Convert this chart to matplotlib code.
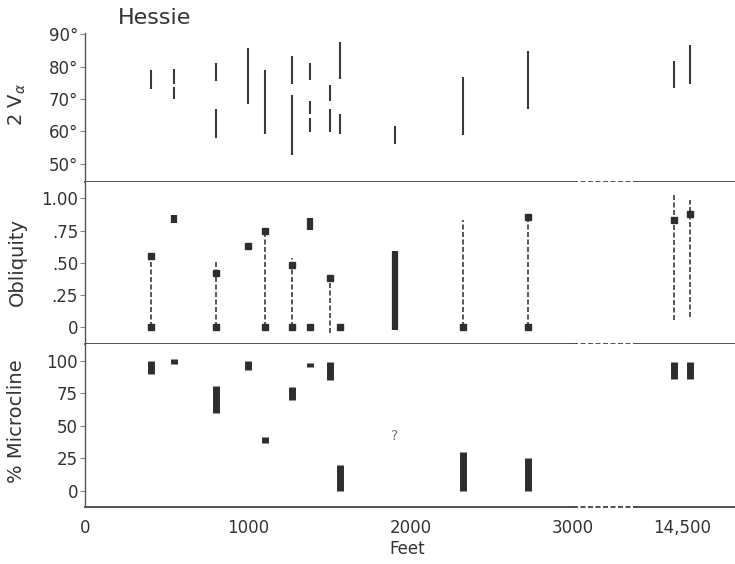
import numpy as np
import matplotlib.pyplot as plt

# --- data (depth in feet; the two deep samples sit past the axis break) ---
twov_depth = [405, 545, 545, 805, 805, 1000, 1105, 1270, 1270, 1385, 1385, 1385,
              1505, 1505, 1565, 1565, 1905, 2325, 2720, 14400, 14600]
twov_lo = [73.1, 74.7, 70.1, 75.7, 57.8, 68.5, 59.3, 74.7, 52.6, 76.0, 65.4, 59.7,
           69.3, 59.8, 76.2, 59.1, 56.0, 59.0, 67.0, 73.4, 74.5]
twov_hi = [78.8, 79.3, 73.6, 81.0, 67.0, 85.9, 79.0, 83.4, 71.1, 81.1, 69.3, 64.1,
           74.2, 67.0, 87.5, 65.4, 61.5, 76.9, 84.7, 81.8, 86.7]

obl_range_depth = [405, 805, 1105, 1270, 1505, 2325, 2720, 14400, 14600]
obl_range_lo = [0, 0, 0, 0, -0.045, 0, 0, 0.057, 0.08]
obl_range_hi = [0.55, 0.52, 0.75, 0.54, 0.38, 0.83, 0.857, 1.04, 0.99]
obl_pt_depth = [405, 405, 805, 805, 1000, 1105, 1105, 1270, 1270, 1385, 1505,
                1565, 2325, 2720, 2720, 14400, 14600]
obl_pt_val = [0.55, 0, 0.42, 0, 0.63, 0.75, 0, 0.48, 0, 0, 0.38,
              0, 0, 0.857, 0, 0.83, 0.876]
obl_bar_depth = [545, 1385, 1905]
obl_bar_lo = [0.81, 0.755, -0.02]
obl_bar_hi = [0.87, 0.845, 0.59]

mic_depth = [405, 545, 805, 1000, 1105, 1270, 1385, 1505, 1565, 2325, 2720, 14400, 14600]
mic_lo = [89.5, 97.5, 60, 93, 37, 70, 95, 85, 0, 0, 0, 86, 86]
mic_hi = [100, 101, 80.5, 100, 41, 80, 98.5, 99, 20, 30, 25, 99, 99]
mic_unknown_depth = 1905
mic_unknown_val = 42

x_ticks = [0, 1000, 2000, 3000, 14500]
x_labels = ["0", "1000", "2000", "3000", "14,500"]


def xpos(ft):
    # broken axis: everything deep gets squeezed in after 3000 ft
    ft = np.asarray(ft, float)
    return np.where(ft > 3500, 3669 + (ft - 14500) * 0.5, ft)


INK = "#333333"
plt.rcParams["font.family"] = ["DejaVu Sans"]

W, H = 735, 564
fig = plt.figure(figsize=(W / 100, H / 100), dpi=100)


def box(top, bot):
    return [85 / W, 1 - bot / H, 650 / W, (bot - top) / H]


ax1 = fig.add_axes(box(33, 181.7))
ax2 = fig.add_axes(box(181.7, 344.3))
ax3 = fig.add_axes(box(344.3, 506.7))

# 2V panel
ax1.vlines(xpos(twov_depth), twov_lo, twov_hi, color="#3a3a3a", lw=1.5)
ax1.set_ylim(44.4, 90.4)
ax1.set_yticks([50, 60, 70, 80, 90])
ax1.set_yticklabels(["50°", "60°", "70°", "80°", "90°"])

# obliquity panel
ax2.vlines(xpos(obl_range_depth), obl_range_lo, obl_range_hi, color="#3a3a3a",
           lw=1.2, linestyles=(0, (3, 1.5)))
ax2.vlines(xpos(obl_bar_depth), obl_bar_lo, obl_bar_hi, color="#2e2e2e", lw=4.5,
           capstyle="butt")
ax2.plot(xpos(obl_pt_depth), obl_pt_val, ls="none", marker="s", ms=4.5,
         color="#2e2e2e")
ax2.set_ylim(-0.132, 1.129)
ax2.set_yticks([0, 0.25, 0.5, 0.75, 1.0])
ax2.set_yticklabels(["0", ".25", ".50", ".75", "1.00"])

# microcline panel
ax3.vlines(xpos(mic_depth), mic_lo, mic_hi, color="#2e2e2e", lw=5, capstyle="butt")
ax3.text(xpos(mic_unknown_depth), mic_unknown_val, "?", color="#777777",
         fontsize=10, ha="center", va="center")
ax3.set_ylim(-12.3, 112.6)
ax3.set_yticks([0, 25, 50, 75, 100])
ax3.set_xticks(xpos(x_ticks))
ax3.set_xticklabels(x_labels)
ax3.tick_params(axis="x", length=0, pad=9, labelsize=12, colors=INK)

for ax in (ax1, ax2, ax3):
    ax.set_xlim(0, 3995)
    for s in ("top", "right", "bottom"):
        ax.spines[s].set_visible(False)
    ax.spines["left"].set_color("#555555")
    ax.spines["left"].set_linewidth(1)
    ax.tick_params(axis="y", length=3.5, width=0.8, color="#888888", pad=1.5,
                   labelsize=12, labelcolor=INK)
    if ax is not ax3:
        ax.set_xticks([])
    # bottom divider with dashed gap where the depth scale is broken
    tr = ax.get_xaxis_transform()
    ax.plot([0, 3000], [0, 0], transform=tr, color=INK, lw=1.2, clip_on=False)
    ax.plot([3000, 3393], [0, 0], transform=tr, color=INK, lw=1.2,
            ls=(0, (3, 1.5)), clip_on=False)
    ax.plot([3393, 3995], [0, 0], transform=tr, color=INK, lw=1.2, clip_on=False)

fig.text(118 / W, 1 - 18 / H, "Hessie", fontsize=16, color=INK, ha="left", va="center")
fig.text(17 / W, 1 - 105 / H, "2 V$_\\alpha$", fontsize=14, color=INK, rotation=90,
         ha="center", va="center")
fig.text(17 / W, 1 - 262 / H, "Obliquity", fontsize=14, color=INK, rotation=90,
         ha="center", va="center")
fig.text(17 / W, 1 - 421 / H, "% Microcline", fontsize=14, color=INK, rotation=90,
         ha="center", va="center")
fig.text(407 / W, 1 - 549 / H, "Feet", fontsize=12, color=INK, ha="center", va="center")

fig.savefig("out.png", dpi=100)
